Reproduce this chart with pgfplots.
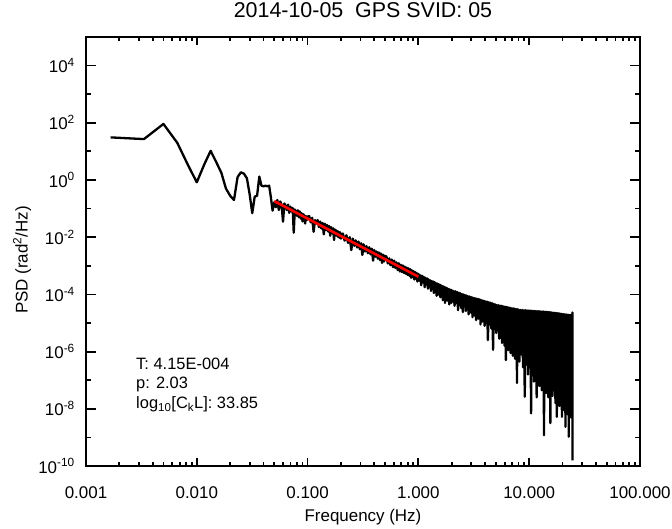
\documentclass[border=0pt]{standalone}
\usepackage{fontspec}
\setmainfont{Liberation Sans}
\usepackage{pgfplots}
\usepackage{pgfplotstable}
\pgfplotsset{compat=1.18}

% PSD, columns: frequency (Hz) and log10 of PSD (rad^2/Hz)
\pgfplotstableread{
f lp
0.001667 1.49
0.003333 1.43
0.005 1.96
0.006667 1.30
0.008333 0.52
0.01 -0.08
0.011667 0.54
0.013333 1.02
0.015 0.62
0.016667 0.25
0.018333 -0.30
0.02 -0.55
0.021667 -0.70
0.023333 0.10
0.025 0.27
0.026667 0.22
0.028333 0.06
0.03 -0.50
0.031667 -1.16
0.033333 -0.58
0.035 -0.55
0.036667 0.12
0.038333 -0.20
0.04 -0.22
0.041667 -0.20
0.043333 -0.22
0.045 -0.20
0.046667 -0.62
0.048333 -1.07
0.05 -0.78
0.0517 -0.95
0.0533 -0.70
0.0550 -1.05
0.0567 -0.75
0.0583 -0.88
0.0600 -1.46
0.0617 -0.82
0.0633 -0.90
0.0650 -1.05
0.0667 -0.86
0.0683 -1.15
0.0700 -0.93
0.0717 -1.10
0.0733 -0.98
0.0750 -1.84
0.0767 -1.03
0.0783 -1.10
0.0800 -1.25
0.0817 -1.06
0.0833 -1.30
0.0850 -1.10
0.0867 -1.35
0.0883 -1.16
0.0900 -1.45
0.0917 -1.20
0.0933 -1.25
0.0950 -1.52
0.0967 -1.26
0.0983 -1.40
0.1000 -1.28
0.1033 -1.26
0.1067 -1.48
0.1100 -1.32
0.1133 -1.81
0.1167 -1.40
0.1200 -1.52
0.1233 -1.40
0.1267 -1.65
0.1300 -1.45
0.1333 -1.70
0.1367 -1.50
0.1400 -1.90
0.1433 -1.53
0.1467 -1.75
0.1500 -1.57
0.1533 -1.80
0.1567 -1.61
0.1600 -1.95
0.1633 -1.65
0.1667 -1.86
0.1700 -1.69
0.1733 -2.10
0.1767 -1.73
0.1800 -1.93
0.1833 -1.77
0.1867 -1.98
0.1900 -1.80
0.1933 -2.02
0.1967 -1.83
0.2000 -2.05
0.208 -1.87
0.216 -2.12
0.224 -1.93
0.232 -2.20
0.240 -2.00
0.248 -2.45
0.256 -2.05
0.264 -2.30
0.272 -2.11
0.280 -2.36
0.288 -2.15
0.296 -2.42
0.304 -2.21
0.312 -2.62
0.320 -2.25
0.330 -2.50
0.340 -2.31
0.350 -2.56
0.360 -2.35
0.370 -2.60
0.380 -2.40
0.390 -2.82
0.400 -2.45
0.410 -2.68
0.420 -2.50
0.430 -2.75
0.440 -2.53
0.450 -2.80
0.460 -2.57
0.470 -2.90
0.480 -2.61
0.490 -2.85
0.500 -2.65
0.515 -2.68
0.530 -2.92
0.545 -2.74
0.560 -2.98
0.575 -2.78
0.590 -3.05
0.605 -2.82
0.620 -3.08
0.635 -2.88
0.650 -3.15
0.665 -2.91
0.680 -3.20
0.695 -2.96
0.710 -3.22
0.725 -2.99
0.740 -3.25
0.755 -3.03
0.770 -3.28
0.785 -3.06
0.800 -3.32
0.815 -3.09
0.830 -3.35
0.845 -3.12
0.860 -3.42
0.875 -3.16
0.890 -3.40
0.905 -3.19
0.920 -3.48
0.935 -3.22
0.950 -3.45
0.965 -3.25
0.980 -3.55
0.995 -3.28
1.00 -3.29
1.02 -3.52
1.04 -3.33
1.06 -3.68
1.08 -3.35
1.10 -3.58
1.12 -3.39
1.14 -3.75
1.16 -3.42
1.18 -3.66
1.20 -3.44
1.22 -3.80
1.24 -3.48
1.26 -3.72
1.28 -3.51
1.30 -3.88
1.32 -3.53
1.34 -3.78
1.36 -3.55
1.38 -3.95
1.40 -3.57
1.42 -3.86
1.44 -3.60
1.46 -4.05
1.48 -3.62
1.50 -3.92
1.52 -3.64
1.54 -4.02
1.56 -3.66
1.58 -4.10
1.60 -3.68
1.62 -3.98
1.64 -3.71
1.66 -4.20
1.68 -3.72
1.70 -4.08
1.72 -3.74
1.74 -4.30
1.76 -3.76
1.78 -4.12
1.80 -3.77
1.82 -4.22
1.84 -3.80
1.86 -4.15
1.88 -3.81
1.90 -4.35
1.92 -3.83
1.94 -4.20
1.96 -3.84
1.98 -4.30
2.00 -3.85
2.04 -4.25
2.08 -3.88
2.12 -4.40
2.16 -3.89
2.20 -4.30
2.24 -3.92
2.28 -4.55
2.32 -3.94
2.36 -4.38
2.40 -3.96
2.44 -4.48
2.48 -3.99
2.52 -4.62
2.56 -4.00
2.60 -4.42
2.64 -4.03
2.68 -4.58
2.72 -4.04
2.76 -4.50
2.80 -4.06
2.84 -4.70
2.88 -4.07
2.92 -4.55
2.96 -4.09
3.00 -4.65
3.04 -4.10
3.08 -4.80
3.12 -4.12
3.16 -4.60
3.20 -4.13
3.24 -4.75
3.28 -4.14
3.32 -4.90
3.36 -4.15
3.40 -4.68
3.44 -4.16
3.48 -4.85
3.52 -4.17
3.56 -4.72
3.60 -4.18
3.64 -5.05
3.68 -4.20
3.72 -4.80
3.76 -4.21
3.80 -4.95
3.84 -4.22
3.88 -4.85
3.92 -4.23
3.96 -5.10
4.00 -4.24
4.08 -5.00
4.16 -4.25
4.24 -5.60
4.32 -4.27
4.40 -5.05
4.48 -4.29
4.56 -5.20
4.64 -4.31
4.72 -5.94
4.80 -4.33
4.88 -5.15
4.96 -4.35
5.04 -5.35
5.12 -4.37
5.20 -5.25
5.28 -4.38
5.36 -5.55
5.44 -4.39
5.52 -5.40
5.60 -4.40
5.68 -5.70
5.76 -4.41
5.84 -5.50
5.92 -4.42
6.00 -5.80
6.08 -4.43
6.16 -6.30
6.24 -4.44
6.32 -5.65
6.40 -4.45
6.48 -5.95
6.56 -4.46
6.64 -5.75
6.72 -4.47
6.80 -6.05
6.88 -4.48
6.96 -5.85
7.04 -4.49
7.12 -6.15
7.20 -4.49
7.28 -5.95
7.36 -4.50
7.44 -6.25
7.52 -4.51
7.60 -6.05
7.68 -4.52
7.76 -7.10
7.84 -4.52
7.92 -6.20
8.00 -4.53
8.16 -6.35
8.32 -4.54
8.48 -6.10
8.64 -4.54
8.80 -6.55
8.96 -4.55
9.12 -7.58
9.28 -4.55
9.44 -6.45
9.60 -4.56
9.76 -6.80
9.92 -4.56
10.08 -6.50
10.24 -4.57
10.40 -8.16
10.56 -4.57
10.72 -6.75
10.88 -4.58
11.04 -7.05
11.20 -4.58
11.36 -6.70
11.52 -4.58
11.68 -7.60
11.84 -4.59
12.00 -6.90
12.16 -4.59
12.32 -7.20
12.48 -4.59
12.64 -6.85
12.80 -4.60
12.96 -7.35
13.12 -4.60
13.28 -7.05
13.44 -4.60
13.60 -8.92
13.76 -4.61
13.92 -7.10
14.08 -4.61
14.24 -7.45
14.40 -4.61
14.56 -7.15
14.72 -4.62
14.88 -7.60
15.04 -4.62
15.20 -7.25
15.36 -4.62
15.52 -8.50
15.68 -4.63
15.84 -7.35
16.00 -4.63
16.25 -7.55
16.50 -4.64
16.75 -7.30
17.00 -4.64
17.25 -7.80
17.50 -4.65
17.75 -8.28
18.00 -4.66
18.25 -7.45
18.50 -4.66
18.75 -7.90
19.00 -4.67
19.25 -7.55
19.50 -4.68
19.75 -8.28
20.00 -4.69
20.25 -7.60
20.50 -4.69
20.75 -8.05
21.00 -4.70
21.25 -8.63
21.50 -4.70
21.75 -7.70
22.00 -4.71
22.25 -8.20
22.50 -4.71
22.75 -8.98
23.00 -4.72
23.25 -7.80
23.50 -4.72
23.75 -8.30
24.00 -4.71
24.25 -7.90
24.50 -4.72
24.58 -4.63
24.60 -9.80
}\psd

\begin{document}
\begin{tikzpicture}
\begin{axis}[
    name=ax,
    xmode=log, ymode=log,
    scale only axis,
    width=554bp, height=429bp,
    xmin=0.001, xmax=100,
    ymin=1e-10, ymax=1e5,
    xtick={0.001,0.01,0.1,1,10,100},
    xticklabels={0.001,0.010,0.100,1.000,10.000,100.000},
    minor xtick={0.002,0.003,0.004,0.005,0.006,0.007,0.008,0.009,
                 0.02,0.03,0.04,0.05,0.06,0.07,0.08,0.09,
                 0.2,0.3,0.4,0.5,0.6,0.7,0.8,0.9,
                 2,3,4,5,6,7,8,9,20,30,40,50,60,70,80,90},
    ytick={1e-10,1e-8,1e-6,1e-4,1e-2,1,1e2,1e4},
    yticklabels={10\textsuperscript{-10},10\textsuperscript{-8},10\textsuperscript{-6},
                 10\textsuperscript{-4},10\textsuperscript{-2},10\textsuperscript{0},
                 10\textsuperscript{2},10\textsuperscript{4}},
    minor ytick={1e-9,1e-7,1e-5,1e-3,1e-1,1e1,1e3},
    tick align=inside,
    major tick length=9bp,
    minor tick length=4.5bp,
    xtick style={/pgfplots/major tick length=8bp, /pgfplots/minor tick length=4bp},
    ytick style={/pgfplots/major tick length=10.5bp, /pgfplots/minor tick length=5bp},
    every tick/.append style={black, line width=1.8bp},
    axis line style={line width=2bp},
    tick label style={font=\fontsize{17}{20}\selectfont},
    xticklabel style={anchor=base, yshift=-32bp},
    yticklabel style={anchor=east, inner sep=0pt, xshift=-11bp},
    label style={font=\fontsize{17}{20}\selectfont},
    xlabel={Frequency (Hz)},
    xlabel style={at={(axis description cs:0.5,-0.119)}, anchor=center},
    ylabel={PSD (rad\textsuperscript{2}/Hz)},
    ylabel style={at={(axis description cs:-0.1155,0.48)}, anchor=center, rotate=0},
    title={2014-10-05~~GPS SVID: 05},
    title style={font=\fontsize{21.5}{25}\selectfont, at={(axis description cs:0.5,1.049)}, anchor=center},
]
\addplot[black, line width=2.3bp, line join=round] table[x=f, y expr=10^(\thisrow{lp})] {\psd};
\addplot[red, line width=2.6bp] coordinates {(0.05,0.1824) (1,4.17e-4)};
\node[anchor=base west, inner sep=0pt, font=\fontsize{16.5}{19}\selectfont] at (rel axis cs:0.0903,0.2261) {T: 4.15E-004};
\node[anchor=base west, inner sep=0pt, font=\fontsize{16.5}{19}\selectfont] at (rel axis cs:0.0903,0.1795) {p: 2.03};
\node[anchor=base west, inner sep=0pt, font=\fontsize{16.5}{19}\selectfont] at (rel axis cs:0.0903,0.1329) {log\textsubscript{10}[C\textsubscript{k}L]: 33.85};
\end{axis}
\pgfresetboundingbox
\path ([shift={(-86bp,-63bp)}]ax.south west) rectangle ([shift={(32bp,37bp)}]ax.north east);
\end{tikzpicture}
\end{document}
